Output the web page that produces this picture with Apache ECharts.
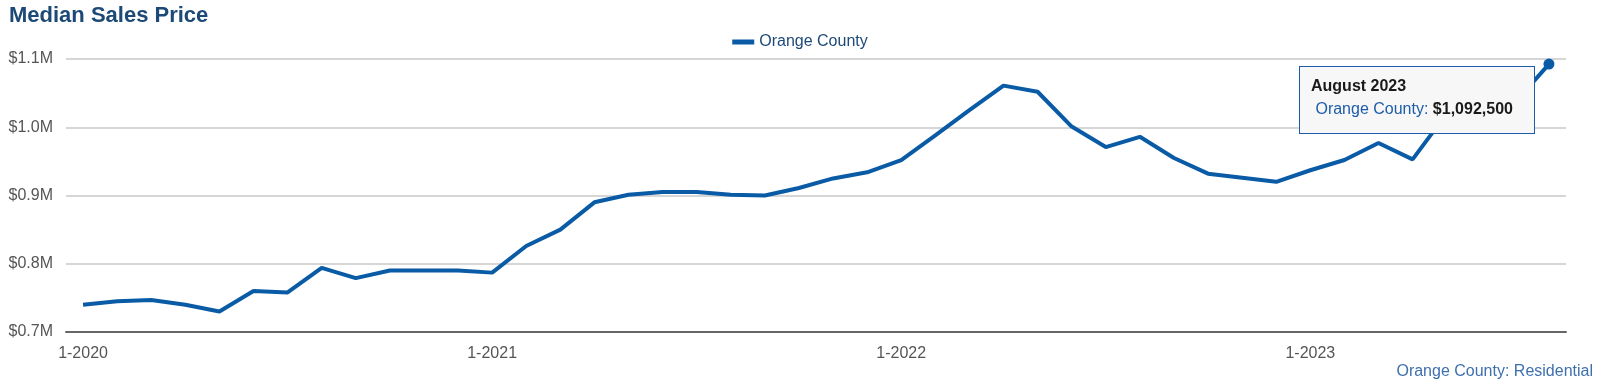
<!DOCTYPE html>
<html>
<head>
<meta charset="utf-8">
<script src="https://cdn.jsdelivr.net/npm/echarts@6/dist/echarts.min.js"></script>
<style>
html,body{margin:0;padding:0;background:#fff;}
#c{width:1600px;height:388px;}
</style>
</head>
<body>
<div id="c"></div>
<script>
const categories = [
  '1-2020','2-2020','3-2020','4-2020','5-2020','6-2020','7-2020','8-2020','9-2020','10-2020','11-2020','12-2020',
  '1-2021','2-2021','3-2021','4-2021','5-2021','6-2021','7-2021','8-2021','9-2021','10-2021','11-2021','12-2021',
  '1-2022','2-2022','3-2022','4-2022','5-2022','6-2022','7-2022','8-2022','9-2022','10-2022','11-2022','12-2022',
  '1-2023','2-2023','3-2023','4-2023','5-2023','6-2023','7-2023','8-2023'
];
const orangeCounty = [
  740000, 745000, 747000, 740000, 730000, 760000, 758000, 794000, 779000, 790000, 790000, 790000,
  787000, 826000, 850000, 890000, 901000, 905000, 905000, 901000, 900000, 911000, 925000, 934000,
  952000, 988000, 1025000, 1061000, 1052000, 1001000, 971000, 986000, 955000, 932000, 926000, 920000,
  937000, 952000, 977000, 953000, 1020000, 1030000, 1036000, 1092500
];
const yTicks = [700000, 800000, 900000, 1000000, 1100000];
const monthNames = ['January','February','March','April','May','June','July','August','September','October','November','December'];

const chart = echarts.init(document.getElementById('c'));
const FONT = 'Liberation Sans, Arial, sans-serif';
const last = orangeCounty.length - 1;

chart.setOption({
  animation: false,
  textStyle: { fontFamily: FONT },
  title: [
    { text: 'Median Sales Price', left: 4, top: 0,
      textStyle: { fontFamily: FONT, fontSize: 22, fontWeight: 'bold', color: '#1d4977' } },
    { text: 'Orange County: Residential', right: 2, bottom: 3,
      textStyle: { fontFamily: FONT, fontSize: 16, fontWeight: 'normal', color: '#3e70ae' } }
  ],
  legend: {
    top: 29, left: 'center',
    icon: 'rect', itemWidth: 22, itemHeight: 5, itemGap: 8,
    textStyle: { fontFamily: FONT, fontSize: 16, color: '#1d4977' },
    data: ['Orange County']
  },
  grid: { left: 66, right: 34, top: 59, bottom: 56, containLabel: false },
  tooltip: {
    trigger: 'item',
    alwaysShowContent: true,
    transitionDuration: 0,
    backgroundColor: '#f7f7f7',
    borderColor: '#1c5ca8',
    borderWidth: 1,
    padding: [8, 10, 13, 11],
    extraCssText: 'border-radius:0;box-shadow:none;',
    position: [1299, 66],
    formatter: function (p) {
      const parts = categories[p.dataIndex].split('-');
      const name = monthNames[parseInt(parts[0], 10) - 1] + ' ' + parts[1];
      const val = '$' + p.value.toLocaleString('en-US');
      return '<div style="font-family:' + FONT + ';font-size:16px;line-height:22.5px;width:213px;">' +
        '<div style="font-weight:bold;color:#1a1a1a;">' + name + '</div>' +
        '<div><span style="color:#1c5ca8;">&nbsp;Orange County: </span>' +
        '<span style="font-weight:bold;color:#1a1a1a;">' + val + '</span></div></div>';
    }
  },
  xAxis: {
    type: 'category',
    data: categories,
    boundaryGap: true,
    axisLine: { lineStyle: { color: '#666', width: 2 } },
    axisTick: { alignWithLabel: true, length: 5, lineStyle: { color: '#666', width: 2 },
      interval: function (i) { return i % 12 === 0; } },
    axisLabel: { interval: function (i) { return i % 12 === 0; },
      fontFamily: FONT, fontSize: 16, color: '#555', margin: 14 },
    splitLine: { show: false }
  },
  yAxis: {
    type: 'value',
    min: yTicks[0], max: yTicks[yTicks.length - 1], interval: 100000,
    axisLine: { show: false },
    axisTick: { show: false },
    axisLabel: { fontFamily: FONT, fontSize: 16, color: '#555', margin: 13,
      formatter: function (v) { return '$' + (v / 1e6).toFixed(1) + 'M'; } },
    splitLine: { lineStyle: { color: '#c8c8c8', width: 1.5 } }
  },
  series: [{
    name: 'Orange County',
    type: 'line',
    data: orangeCounty,
    color: '#0a5ba6',
    lineStyle: { width: 4, color: '#0a5ba6' },
    symbol: 'circle',
    showSymbol: true,
    showAllSymbol: true,
    symbolSize: function (v, p) { return p.dataIndex === last ? 11 : 0; },
    itemStyle: { color: '#0a5ba6' },
    emphasis: { disabled: true }
  }]
});

chart.dispatchAction({ type: 'showTip', seriesIndex: 0, dataIndex: last });
</script>
</body>
</html>
